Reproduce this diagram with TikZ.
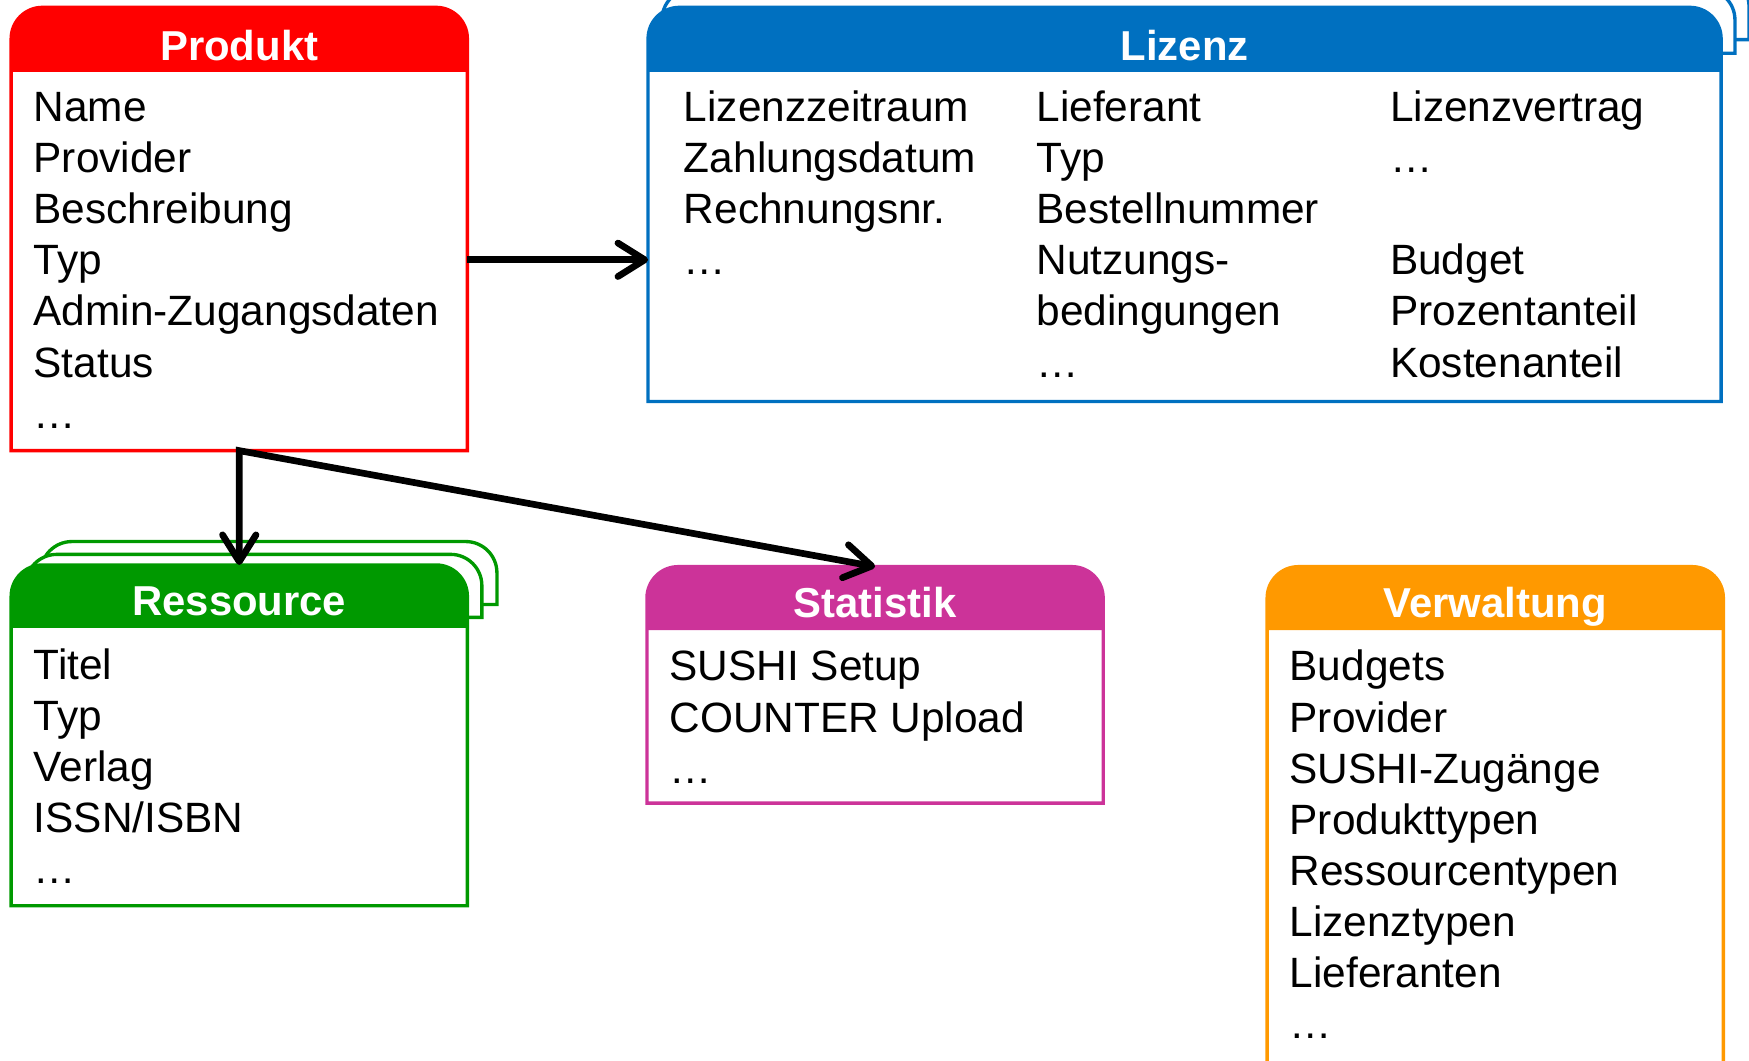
\documentclass[tikz,border=0pt]{standalone}
\usepackage{fontspec}
\setmainfont{Liberation Sans}
\usetikzlibrary{arrows.meta,calc}
\definecolor{cred}{HTML}{FF0000}
\definecolor{cblue}{HTML}{0070C0}
\definecolor{cgreen}{HTML}{009900}
\definecolor{cmag}{HTML}{CC3399}
\definecolor{corange}{HTML}{FF9900}
\newcommand\cardhead[4]{(#1,#4) -- (#1,#3-28) arc[start angle=180,end angle=90,radius=28] -- (#2-28,#3) arc[start angle=90,end angle=0,radius=28] -- (#2,#4)}
\newcommand\drawcard[6]{%
  \fill[white] \cardhead{#2}{#3}{#4}{#6} -- cycle;
  \fill[#1] \cardhead{#2}{#3}{#4}{#5} -- cycle;
  \draw[#1, line width=3pt] \cardhead{#2}{#3}{#4}{#6} -- cycle;}
\newcommand\drawlayer[7]{%
  \draw[#1, line width=3pt, fill=white] \cardhead{#2+#6}{#3+#6}{#4+#7}{#5+#7} -- cycle;}
\tikzset{
  cardnode/.style={rectangle, inner sep=0pt, outer sep=0pt},
  txt/.style={anchor=base west, inner sep=0pt, font=\fontsize{38}{46}\selectfont},
  hd/.style={anchor=base, inner sep=0pt, text=white, font=\fontsize{37.5}{45}\selectfont\bfseries},
  barb/.tip={Straight Barb[length=24pt, width=30pt, line cap=round, line join=round]},
  arr/.style={line width=6pt, barb-barb}
}
\begin{document}
\begin{tikzpicture}[x=1pt, y=1pt]
\useasboundingbox (0,0) rectangle (1568,951);
\clip (0,0) rectangle (1568,951);
% card frames (named nodes)
\node[cardnode, minimum width=409pt, minimum height=397.4pt] (produkt) at (214.5,745.7) {};
\node[cardnode, minimum width=962pt, minimum height=353.4pt] (lizenz) at (1062,767.7) {};
\node[cardnode, minimum width=409pt, minimum height=305.5pt] (ressource) at (214.5,291.75) {};
\node[cardnode, minimum width=409pt, minimum height=212pt] (statistik) at (784.5,337) {};
\node[cardnode, minimum width=409pt, minimum height=458pt] (verwaltung) at (1340.5,214) {};
% Lizenz
\drawlayer{cblue}{581}{1543}{944.4}{886.5}{25}{29}
\drawlayer{cblue}{581}{1543}{944.4}{886.5}{12.4}{16.7}
\drawcard{cblue}{581}{1543}{944.4}{886.5}{591}
% Produkt
\drawcard{cred}{10}{419}{944.4}{886.5}{547}
% Ressource
\drawlayer{cgreen}{10}{419}{444.5}{388}{26.5}{21}
\drawlayer{cgreen}{10}{419}{444.5}{388}{13}{9.5}
\drawcard{cgreen}{10}{419}{444.5}{388}{139}
% Statistik
\drawcard{cmag}{580}{989}{443}{386}{231}
% Verwaltung
\drawcard{corange}{1136}{1545}{443}{386}{-15}
% headers
\node[hd] (h-produkt) at (214.5,897) {Produkt};
\node[hd] (h-lizenz) at (1062,897) {Lizenz};
\node[hd] (h-ressource) at (214.5,399) {Ressource};
\node[hd] (h-statistik) at (784.5,397) {Statistik};
\node[hd] (h-verwaltung) at (1340.5,397) {Verwaltung};
% Produkt texts
\foreach \t [count=\i from 0] in {Name, Provider, Beschreibung, Typ, Admin-Zugangsdaten, Status, …}
  \node[txt] (p\i) at (30,842-45.8*\i) {\t};
% Lizenz texts
\foreach \t [count=\i from 0] in {Lizenzzeitraum, Zahlungsdatum, Rechnungsnr., …}
  \node[txt] (la\i) at (613,842-45.8*\i) {\t};
\foreach \t [count=\i from 0] in {Lieferant, Typ, Bestellnummer, Nutzungs-, bedingungen, …}
  \node[txt] (lb\i) at (929,842-45.8*\i) {\t};
\node[txt] (lc0) at (1246,842) {Lizenzvertrag};
\node[txt] (lc1) at (1246,842-45.8) {…};
\node[txt] (lc3) at (1246,842-45.8*3) {Budget};
\node[txt] (lc4) at (1246,842-45.8*4) {Prozentanteil};
\node[txt] (lc5) at (1246,842-45.8*5) {Kostenanteil};
% Ressource texts
\foreach \t [count=\i from 0] in {Titel, Typ, Verlag, ISSN/ISBN, …}
  \node[txt] (r\i) at (30,342-45.8*\i) {\t};
% Statistik texts
\foreach \t [count=\i from 0] in {SUSHI Setup, COUNTER Upload, …}
  \node[txt] (s\i) at (600,340.5-45.8*\i) {\t};
% Verwaltung texts
\foreach \t [count=\i from 0] in {Budgets, Provider, SUSHI-Zugänge, Produkttypen, Ressourcentypen, Lizenztypen, Lieferanten, …}
  \node[txt] (v\i) at (1156,340.5-45.8*\i) {\t};
% connectors
\coordinate (arow) at ($(p3.base)+(0,13.5)$);
\draw[line width=6pt, -barb] (produkt.east |- arow) -- (lizenz.west |- arow);
\draw[arr] (ressource.north) -- (produkt.south) -- (statistik.north);
\end{tikzpicture}
\end{document}
